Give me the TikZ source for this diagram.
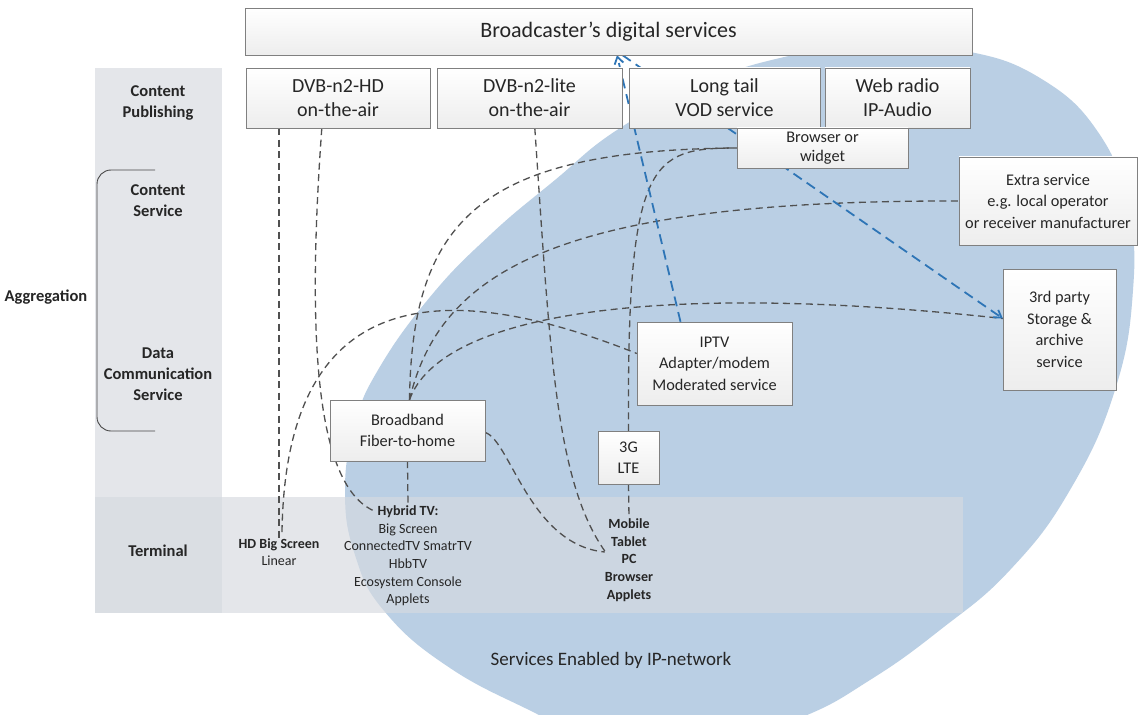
\documentclass[tikz,border=0pt]{standalone}
\usepackage{fontspec}
\setmainfont{Carlito}
\usetikzlibrary{calc,shadows,arrows.meta}

\definecolor{ipblue}{RGB}{186,207,228}
\definecolor{bandgray}{RGB}{214,218,224}
\definecolor{linegray}{RGB}{80,80,80}
\definecolor{linkblue}{RGB}{46,117,182}
\definecolor{boxline}{RGB}{128,128,128}
\definecolor{txt}{RGB}{38,38,38}

\begin{document}
\begin{tikzpicture}[x=1pt,y=-1pt,
  box/.style={draw=boxline, line width=0.9pt, top color=white, bottom color=black!7,
    align=center, inner sep=0pt, text=txt,
    drop shadow={shadow xshift=1.2pt,shadow yshift=-1.2pt,opacity=0.18}},
  big/.style={font=\fontsize{20}{24}\selectfont},
  mid/.style={font=\fontsize{16.3}{21.5}\selectfont},
  lbl/.style={font=\bfseries\fontsize{16.5}{21}\selectfont, align=center, text=txt},
  term/.style={font=\fontsize{14}{17.6}\selectfont, align=center, text=txt, inner sep=0pt},
  link/.style={draw=linegray, line width=1.3pt, dash pattern=on 7pt off 4.5pt},
  bluelink/.style={draw=linkblue, line width=1.8pt, dash pattern=on 10pt off 6pt},
  tip/.style={-{Straight Barb[length=7pt,width=9pt]}},
]
\useasboundingbox (0,0) rectangle (1139,714);
\fill[white] (0,0) rectangle (1139,714);

% IP-network area
\begin{scope}
  \clip (0,0) rectangle (1139,714);
  \fill[ipblue] plot[smooth cycle, tension=0.75] coordinates {
    (345,490) (355,425) (378,370) (430,297) (490,235) (555,180) (617,130)
    (700,85) (780,58) (870,45) (960,50) (1040,78) (1100,135) (1128,210)
    (1133,290) (1115,390) (1070,490) (1010,570) (940,630) (870,680)
    (800,718) (700,750) (600,745) (537,714) (450,668) (385,612) (355,555)};
\end{scope}

% layer column and terminal band
\fill[bandgray, fill opacity=0.65] (95,68) rectangle (222,613);
\fill[bandgray, fill opacity=0.65] (95,497) rectangle (963,613);

% aggregation bracket
\draw[draw=txt!85, line width=0.9pt, rounded corners=14pt]
  (155,170) -- (97,170) -- (97,431) -- (155,431);

% layer labels
\node[lbl] (pub) at (158,103) {Content\\Publishing};
\node[lbl] (csv) at (158,201) {Content\\Service};
\node[lbl] (agg) at (46,297) {Aggregation};
\node[lbl] (dcs) at (158,374) {Data\\Communication\\Service};
\node[lbl] (trm) at (158,551) {Terminal};

% terminals
\node[term] (hdscr) at (279,552) {\textbf{HD Big Screen}\\Linear};
\node[term] (hyb) at (408,556) {\textbf{Hybrid TV:}\\Big Screen\\ConnectedTV SmatrTV\\HbbTV\\Ecosystem Console\\Applets};
\node[term, font=\bfseries\fontsize{14}{17.6}\selectfont] (mob) at (629,560) {Mobile\\Tablet\\PC\\Browser\\Applets};

\node[font=\fontsize{19}{22}\selectfont, text=txt] (ipnet) at (611,660) {Services Enabled by IP-network};

% node positions for the service boxes (drawn after the connectors)
\path
  (608.5,31.5) coordinate (bdsc)
  (338,98) coordinate (hdc)
  (529.5,98) coordinate (litec)
  (724.5,98) coordinate (vodc)
  (897.5,98) coordinate (webc)
  (822.5,148) coordinate (brwc)
  (1048,201) coordinate (extrac)
  (1059.5,329.5) coordinate (thirdc)
  (714.5,363.5) coordinate (iptvc)
  (407.5,430.5) coordinate (bbc)
  (628.5,457.5) coordinate (g3c);

% invisible copies give the anchors used by the connectors
\begin{scope}[every node/.style={inner sep=0pt}]
\node[minimum width=727,minimum height=47] (bds) at (bdsc) {};
\node[minimum width=184,minimum height=60] (hd) at (hdc) {};
\node[minimum width=185,minimum height=60] (lite) at (litec) {};
\node[minimum width=171,minimum height=40] (brw) at (brwc) {};
\node[minimum width=178,minimum height=88] (extra) at (extrac) {};
\node[minimum width=113,minimum height=121] (third) at (thirdc) {};
\node[minimum width=155,minimum height=83] (iptv) at (iptvc) {};
\node[minimum width=155,minimum height=61] (bb) at (bbc) {};
\node[minimum width=61,minimum height=53] (g3) at (g3c) {};
\end{scope}

% connectors
\draw[link] (hdscr.north |- hd.south) -- (hdscr.north);
\draw[link] ($(hdscr.north)+(3,-6)$) .. controls (285,330) and (390,255) .. ($(iptv.west)+(0,-10)$);
\draw[link] ($(hd.south west)+(76,0)$) .. controls (305,360) and (320,490) .. ($(hyb.north)+(-32,6)$);
\draw[link] ($(bb.north)+(2,0)$) .. controls (440,315) and (650,280) .. ($(third.west)+(0,-11)$);
\draw[link] ($(bb.north)+(2,0)$) .. controls (412,220) and (480,150) .. (brw.west);
\draw[link] ($(bb.north)+(2,0)$) .. controls (440,270) and (560,200) .. (extra.west);
\draw[link] ($(lite.south west)+(98,0)$) .. controls (550,350) and (555,480) .. ($(mob.west)+(0,-9)$);
\draw[link] ($(bb.east)+(0,2)$) .. controls (510,440) and (530,545) .. ($(mob.west)+(0,-8)$);
\draw[link] (g3.north) .. controls (627,160) and (650,148) .. (brw.west);
\draw[link] (bb.south) -- (hyb.north);
\draw[link] (g3.south) -- (mob.north);

\draw[bluelink,tip] ($(iptv.north)+(-34,0)$) -- ($(bds.south)+(8.5,0)$);
\draw[bluelink,tip] ($(bds.south)+(14,0)$) -- ($(third.west)+(0,-11)$);

% service boxes
\node[box,font=\fontsize{22}{26}\selectfont,minimum width=727,minimum height=47] (bdsbox) at (bdsc) {Broadcaster’s digital services};
\node[box,big,minimum width=184,minimum height=60] (hdbox) at (hdc) {DVB-n2-HD\\on-the-air};
\node[box,big,minimum width=185,minimum height=60] (litebox) at (litec) {DVB-n2-lite\\on-the-air};
\node[box,big,minimum width=191,minimum height=60] (vodbox) at (vodc) {Long tail\\VOD service};
\node[box,big,minimum width=145,minimum height=60] (webbox) at (webc) {Web radio\\IP-Audio};
\node[box,font=\fontsize{16.3}{19}\selectfont,minimum width=171,minimum height=40] (brwbox) at (brwc) {Browser or\\widget};
\node[box,mid,minimum width=178,minimum height=88] (extrabox) at (extrac) {Extra service\\e.g. local operator\\or receiver manufacturer};
\node[box,mid,minimum width=113,minimum height=121] (thirdbox) at (thirdc) {3rd party\\Storage \&\\archive\\service};
\node[box,mid,minimum width=155,minimum height=83] (iptvbox) at (iptvc) {IPTV\\Adapter/modem\\Moderated service};
\node[box,mid,minimum width=155,minimum height=61] (bbbox) at (bbc) {Broadband\\Fiber-to-home};
\node[box,mid,minimum width=61,minimum height=53] (g3box) at (g3c) {3G\\LTE};
\end{tikzpicture}
\end{document}
